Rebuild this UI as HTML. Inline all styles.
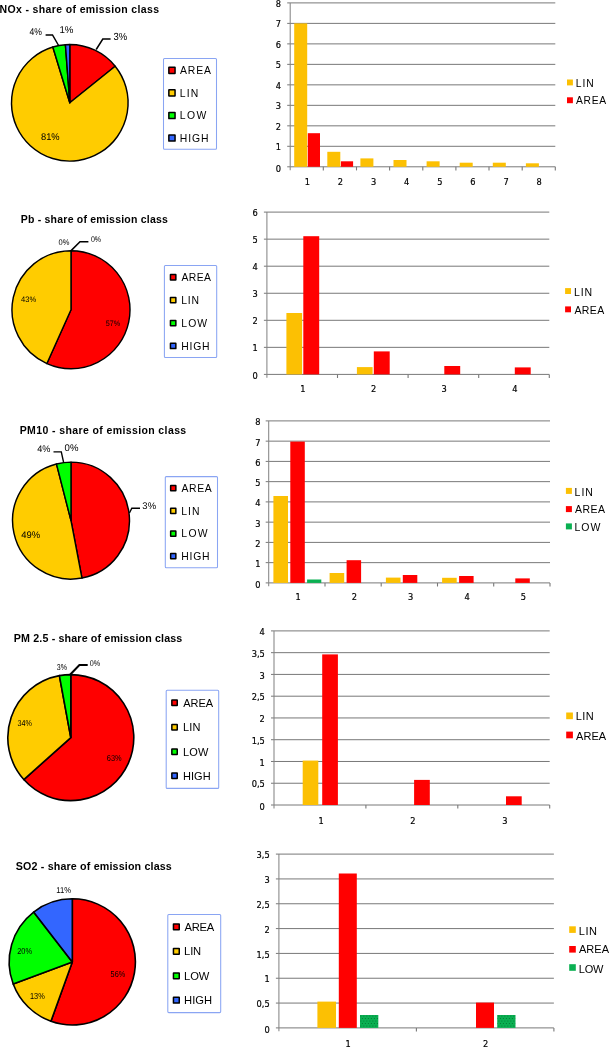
<!DOCTYPE html>
<html><head><meta charset="utf-8"><title>Emission class shares</title>
<style>html,body{margin:0;padding:0;background:#fff}svg{display:block}</style>
</head><body>
<svg width="609" height="1047" viewBox="0 0 609 1047">
<rect width="609" height="1047" fill="#fff"/>
<defs><pattern id="gd" width="3" height="5" patternUnits="userSpaceOnUse"><rect width="3" height="5" fill="#0ab052"/><rect x="0.4" y="0.6" width="0.9" height="0.9" fill="#00702e"/><rect x="1.9" y="3.1" width="0.9" height="0.9" fill="#00702e"/></pattern></defs>
<text x="-0.5" y="12.9" font-family="'Liberation Sans', Arial, sans-serif" font-size="10.5" font-weight="bold" text-anchor="start" fill="#000" textLength="159.6" lengthAdjust="spacing">NOx - share of emission class</text>
<path d="M69.80,102.80 L69.80,44.50 A58.30,58.30 0 0 1 115.18,66.21 Z" fill="#ff0000" stroke="#000" stroke-width="1.45" stroke-linejoin="round"/>
<path d="M69.80,102.80 L115.18,66.21 A58.30,58.30 0 1 1 52.83,47.02 Z" fill="#ffcc00" stroke="#000" stroke-width="1.45" stroke-linejoin="round"/>
<path d="M69.80,102.80 L52.83,47.02 A58.30,58.30 0 0 1 65.41,44.67 Z" fill="#00ff00" stroke="#000" stroke-width="1.45" stroke-linejoin="round"/>
<path d="M69.80,102.80 L65.41,44.67 A58.30,58.30 0 0 1 69.80,44.50 Z" fill="#3366ff" stroke="#000" stroke-width="1.45" stroke-linejoin="round"/>
<path d="M45.6,34.9 L52.5,34.9 L58.6,45.5" fill="none" stroke="#000" stroke-width="1.5"/>
<path d="M110.6,39.0 L102.8,39.0 L96.2,49.5" fill="none" stroke="#000" stroke-width="1.5"/>
<text x="29.56" y="34.7" font-family="'Liberation Sans', Arial, sans-serif" font-size="9.86" textLength="12.44" lengthAdjust="spacingAndGlyphs" text-rendering="geometricPrecision">4%</text>
<text x="59.45" y="32.7" font-family="'Liberation Sans', Arial, sans-serif" font-size="9.86" textLength="14.05" lengthAdjust="spacingAndGlyphs" text-rendering="geometricPrecision">1%</text>
<text x="113.55" y="40.0" font-family="'Liberation Sans', Arial, sans-serif" font-size="10.27" textLength="13.75" lengthAdjust="spacingAndGlyphs" text-rendering="geometricPrecision">3%</text>
<text x="40.97" y="139.7" font-family="'Liberation Sans', Arial, sans-serif" font-size="9.73" textLength="18.63" lengthAdjust="spacingAndGlyphs" text-rendering="geometricPrecision">81%</text>
<rect x="163.5" y="58.4" width="53.0" height="90.8" rx="1" fill="#fff" stroke="#8aa5f3" stroke-width="1.05"/>
<rect x="168.85" y="67.30" width="6.20" height="6.20" rx="0.2" fill="#ff0000" stroke="#000" stroke-width="1.5"/>
<text x="180.0" y="74.1" font-family="'Liberation Sans', Arial, sans-serif" font-size="10.4" text-anchor="start" fill="#000" textLength="31.0" lengthAdjust="spacing">AREA</text>
<rect x="168.85" y="89.80" width="6.20" height="6.20" rx="0.2" fill="#ffcc00" stroke="#000" stroke-width="1.5"/>
<text x="179.8" y="96.6" font-family="'Liberation Sans', Arial, sans-serif" font-size="10.4" text-anchor="start" fill="#000" textLength="18.4" lengthAdjust="spacing">LIN</text>
<rect x="168.85" y="112.40" width="6.20" height="6.20" rx="0.2" fill="#00ff00" stroke="#000" stroke-width="1.5"/>
<text x="179.8" y="119.2" font-family="'Liberation Sans', Arial, sans-serif" font-size="10.4" text-anchor="start" fill="#000" textLength="26.6" lengthAdjust="spacing">LOW</text>
<rect x="168.85" y="134.90" width="6.20" height="6.20" rx="0.2" fill="#3366ff" stroke="#000" stroke-width="1.5"/>
<text x="179.8" y="141.7" font-family="'Liberation Sans', Arial, sans-serif" font-size="10.4" text-anchor="start" fill="#000" textLength="28.6" lengthAdjust="spacing">HIGH</text>
<line x1="287.2" y1="166.80" x2="555.3" y2="166.80" stroke="#787878" stroke-width="1.0"/>
<text transform="translate(281.00,171.50) scale(0.87,1)" font-family="'DejaVu Sans', Verdana, sans-serif" font-size="9.5" text-anchor="end" stroke="#000" stroke-width="0.22">0</text>
<line x1="287.2" y1="146.31" x2="555.3" y2="146.31" stroke="#787878" stroke-width="1.0"/>
<text transform="translate(281.00,150.41) scale(0.87,1)" font-family="'DejaVu Sans', Verdana, sans-serif" font-size="9.5" text-anchor="end" stroke="#000" stroke-width="0.22">1</text>
<line x1="287.2" y1="125.83" x2="555.3" y2="125.83" stroke="#787878" stroke-width="1.0"/>
<text transform="translate(281.00,129.93) scale(0.87,1)" font-family="'DejaVu Sans', Verdana, sans-serif" font-size="9.5" text-anchor="end" stroke="#000" stroke-width="0.22">2</text>
<line x1="287.2" y1="105.34" x2="555.3" y2="105.34" stroke="#787878" stroke-width="1.0"/>
<text transform="translate(281.00,109.44) scale(0.87,1)" font-family="'DejaVu Sans', Verdana, sans-serif" font-size="9.5" text-anchor="end" stroke="#000" stroke-width="0.22">3</text>
<line x1="287.2" y1="84.85" x2="555.3" y2="84.85" stroke="#787878" stroke-width="1.0"/>
<text transform="translate(281.00,88.95) scale(0.87,1)" font-family="'DejaVu Sans', Verdana, sans-serif" font-size="9.5" text-anchor="end" stroke="#000" stroke-width="0.22">4</text>
<line x1="287.2" y1="64.36" x2="555.3" y2="64.36" stroke="#787878" stroke-width="1.0"/>
<text transform="translate(281.00,68.46) scale(0.87,1)" font-family="'DejaVu Sans', Verdana, sans-serif" font-size="9.5" text-anchor="end" stroke="#000" stroke-width="0.22">5</text>
<line x1="287.2" y1="43.88" x2="555.3" y2="43.88" stroke="#787878" stroke-width="1.0"/>
<text transform="translate(281.00,47.98) scale(0.87,1)" font-family="'DejaVu Sans', Verdana, sans-serif" font-size="9.5" text-anchor="end" stroke="#000" stroke-width="0.22">6</text>
<line x1="287.2" y1="23.39" x2="555.3" y2="23.39" stroke="#787878" stroke-width="1.0"/>
<text transform="translate(281.00,27.49) scale(0.87,1)" font-family="'DejaVu Sans', Verdana, sans-serif" font-size="9.5" text-anchor="end" stroke="#000" stroke-width="0.22">7</text>
<line x1="287.2" y1="2.90" x2="555.3" y2="2.90" stroke="#787878" stroke-width="1.0"/>
<text transform="translate(281.00,7.00) scale(0.87,1)" font-family="'DejaVu Sans', Verdana, sans-serif" font-size="9.5" text-anchor="end" stroke="#000" stroke-width="0.22">8</text>
<line x1="290.2" y1="2.9" x2="290.2" y2="170.2" stroke="#858585" stroke-width="1.05"/>
<line x1="323.3" y1="166.8" x2="323.3" y2="170.4" stroke="#787878" stroke-width="1.1"/>
<text transform="translate(307.27,185.00) scale(0.87,1)" font-family="'DejaVu Sans', Verdana, sans-serif" font-size="9.5" text-anchor="middle" stroke="#000" stroke-width="0.22">1</text>
<line x1="356.5" y1="166.8" x2="356.5" y2="170.4" stroke="#787878" stroke-width="1.1"/>
<text transform="translate(340.41,185.00) scale(0.87,1)" font-family="'DejaVu Sans', Verdana, sans-serif" font-size="9.5" text-anchor="middle" stroke="#000" stroke-width="0.22">2</text>
<line x1="389.6" y1="166.8" x2="389.6" y2="170.4" stroke="#787878" stroke-width="1.1"/>
<text transform="translate(373.54,185.00) scale(0.87,1)" font-family="'DejaVu Sans', Verdana, sans-serif" font-size="9.5" text-anchor="middle" stroke="#000" stroke-width="0.22">3</text>
<line x1="422.8" y1="166.8" x2="422.8" y2="170.4" stroke="#787878" stroke-width="1.1"/>
<text transform="translate(406.68,185.00) scale(0.87,1)" font-family="'DejaVu Sans', Verdana, sans-serif" font-size="9.5" text-anchor="middle" stroke="#000" stroke-width="0.22">4</text>
<line x1="455.9" y1="166.8" x2="455.9" y2="170.4" stroke="#787878" stroke-width="1.1"/>
<text transform="translate(439.82,185.00) scale(0.87,1)" font-family="'DejaVu Sans', Verdana, sans-serif" font-size="9.5" text-anchor="middle" stroke="#000" stroke-width="0.22">5</text>
<line x1="489.0" y1="166.8" x2="489.0" y2="170.4" stroke="#787878" stroke-width="1.1"/>
<text transform="translate(472.96,185.00) scale(0.87,1)" font-family="'DejaVu Sans', Verdana, sans-serif" font-size="9.5" text-anchor="middle" stroke="#000" stroke-width="0.22">6</text>
<line x1="522.2" y1="166.8" x2="522.2" y2="170.4" stroke="#787878" stroke-width="1.1"/>
<text transform="translate(506.09,185.00) scale(0.87,1)" font-family="'DejaVu Sans', Verdana, sans-serif" font-size="9.5" text-anchor="middle" stroke="#000" stroke-width="0.22">7</text>
<line x1="555.3" y1="166.8" x2="555.3" y2="170.4" stroke="#787878" stroke-width="1.1"/>
<text transform="translate(539.23,185.00) scale(0.87,1)" font-family="'DejaVu Sans', Verdana, sans-serif" font-size="9.5" text-anchor="middle" stroke="#000" stroke-width="0.22">8</text>
<rect x="294.2" y="23.4" width="13.0" height="143.4" fill="#fcc003"/>
<rect x="307.8" y="133.2" width="12.2" height="33.6" fill="#ff0000"/>
<rect x="327.3" y="151.8" width="13.0" height="15.0" fill="#fcc003"/>
<rect x="340.9" y="161.3" width="12.2" height="5.5" fill="#ff0000"/>
<rect x="360.4" y="158.4" width="13.0" height="8.4" fill="#fcc003"/>
<rect x="393.5" y="160.0" width="13.0" height="6.8" fill="#fcc003"/>
<rect x="426.6" y="161.3" width="13.0" height="5.5" fill="#fcc003"/>
<rect x="459.7" y="162.7" width="13.0" height="4.1" fill="#fcc003"/>
<rect x="492.8" y="162.7" width="13.0" height="4.1" fill="#fcc003"/>
<rect x="525.9" y="163.3" width="13.0" height="3.5" fill="#fcc003"/>
<rect x="567.0" y="79.5" width="5.9" height="5.9" fill="#fcc003"/>
<text x="575.8" y="86.8" font-family="'Liberation Sans', Arial, sans-serif" font-size="10.3" text-anchor="start" fill="#000" textLength="17.9" lengthAdjust="spacing">LIN</text>
<rect x="567.0" y="97.3" width="5.9" height="5.9" fill="#ff0000"/>
<text x="576.1" y="104.3" font-family="'Liberation Sans', Arial, sans-serif" font-size="10.3" text-anchor="start" fill="#000" textLength="30.0" lengthAdjust="spacing">AREA</text>
<text x="20.7" y="222.7" font-family="'Liberation Sans', Arial, sans-serif" font-size="10.5" font-weight="bold" text-anchor="start" fill="#000" textLength="147.2" lengthAdjust="spacing">Pb - share of emission class</text>
<path d="M71.00,309.70 L71.00,250.70 A59.00,59.00 0 1 1 46.89,363.55 Z" fill="#ff0000" stroke="#000" stroke-width="1.45" stroke-linejoin="round"/>
<path d="M71.00,309.70 L46.89,363.55 A59.00,59.00 0 0 1 71.00,250.70 Z" fill="#ffcc00" stroke="#000" stroke-width="1.45" stroke-linejoin="round"/>
<path d="M71.1,250.6 L80.0,241.7 L88.4,241.7" fill="none" stroke="#000" stroke-width="1.5"/>
<text x="58.62" y="245.4" font-family="'Liberation Sans', Arial, sans-serif" font-size="8.22" textLength="10.88" lengthAdjust="spacingAndGlyphs" text-rendering="geometricPrecision">0%</text>
<text x="90.92" y="242.3" font-family="'Liberation Sans', Arial, sans-serif" font-size="8.22" textLength="10.18" lengthAdjust="spacingAndGlyphs" text-rendering="geometricPrecision">0%</text>
<text x="21.03" y="301.9" font-family="'Liberation Sans', Arial, sans-serif" font-size="7.95" textLength="15.07" lengthAdjust="spacingAndGlyphs" text-rendering="geometricPrecision">43%</text>
<text x="105.63" y="326.1" font-family="'Liberation Sans', Arial, sans-serif" font-size="7.95" textLength="14.47" lengthAdjust="spacingAndGlyphs" text-rendering="geometricPrecision">57%</text>
<rect x="164.4" y="265.5" width="52.3" height="91.9" rx="1" fill="#fff" stroke="#8aa5f3" stroke-width="1.05"/>
<rect x="170.45" y="274.60" width="5.40" height="5.40" rx="0.2" fill="#ff0000" stroke="#000" stroke-width="1.5"/>
<text x="181.5" y="281.0" font-family="'Liberation Sans', Arial, sans-serif" font-size="10.4" text-anchor="start" fill="#000" textLength="29.5" lengthAdjust="spacing">AREA</text>
<rect x="170.45" y="297.40" width="5.40" height="5.40" rx="0.2" fill="#ffcc00" stroke="#000" stroke-width="1.5"/>
<text x="181.3" y="303.8" font-family="'Liberation Sans', Arial, sans-serif" font-size="10.4" text-anchor="start" fill="#000" textLength="17.6" lengthAdjust="spacing">LIN</text>
<rect x="170.45" y="320.40" width="5.40" height="5.40" rx="0.2" fill="#00ff00" stroke="#000" stroke-width="1.5"/>
<text x="181.3" y="326.8" font-family="'Liberation Sans', Arial, sans-serif" font-size="10.4" text-anchor="start" fill="#000" textLength="25.8" lengthAdjust="spacing">LOW</text>
<rect x="170.45" y="343.20" width="5.40" height="5.40" rx="0.2" fill="#3366ff" stroke="#000" stroke-width="1.5"/>
<text x="181.3" y="349.6" font-family="'Liberation Sans', Arial, sans-serif" font-size="10.4" text-anchor="start" fill="#000" textLength="28.3" lengthAdjust="spacing">HIGH</text>
<line x1="263.9" y1="374.40" x2="549.3" y2="374.40" stroke="#787878" stroke-width="1.0"/>
<text transform="translate(257.70,379.10) scale(0.87,1)" font-family="'DejaVu Sans', Verdana, sans-serif" font-size="9.5" text-anchor="end" stroke="#000" stroke-width="0.22">0</text>
<line x1="263.9" y1="347.35" x2="549.3" y2="347.35" stroke="#787878" stroke-width="1.0"/>
<text transform="translate(257.70,351.45) scale(0.87,1)" font-family="'DejaVu Sans', Verdana, sans-serif" font-size="9.5" text-anchor="end" stroke="#000" stroke-width="0.22">1</text>
<line x1="263.9" y1="320.30" x2="549.3" y2="320.30" stroke="#787878" stroke-width="1.0"/>
<text transform="translate(257.70,324.40) scale(0.87,1)" font-family="'DejaVu Sans', Verdana, sans-serif" font-size="9.5" text-anchor="end" stroke="#000" stroke-width="0.22">2</text>
<line x1="263.9" y1="293.25" x2="549.3" y2="293.25" stroke="#787878" stroke-width="1.0"/>
<text transform="translate(257.70,297.35) scale(0.87,1)" font-family="'DejaVu Sans', Verdana, sans-serif" font-size="9.5" text-anchor="end" stroke="#000" stroke-width="0.22">3</text>
<line x1="263.9" y1="266.20" x2="549.3" y2="266.20" stroke="#787878" stroke-width="1.0"/>
<text transform="translate(257.70,270.30) scale(0.87,1)" font-family="'DejaVu Sans', Verdana, sans-serif" font-size="9.5" text-anchor="end" stroke="#000" stroke-width="0.22">4</text>
<line x1="263.9" y1="239.15" x2="549.3" y2="239.15" stroke="#787878" stroke-width="1.0"/>
<text transform="translate(257.70,243.25) scale(0.87,1)" font-family="'DejaVu Sans', Verdana, sans-serif" font-size="9.5" text-anchor="end" stroke="#000" stroke-width="0.22">5</text>
<line x1="263.9" y1="212.10" x2="549.3" y2="212.10" stroke="#787878" stroke-width="1.0"/>
<text transform="translate(257.70,216.20) scale(0.87,1)" font-family="'DejaVu Sans', Verdana, sans-serif" font-size="9.5" text-anchor="end" stroke="#000" stroke-width="0.22">6</text>
<line x1="266.9" y1="212.1" x2="266.9" y2="377.8" stroke="#858585" stroke-width="1.05"/>
<line x1="337.5" y1="374.4" x2="337.5" y2="378.0" stroke="#787878" stroke-width="1.1"/>
<text transform="translate(303.00,391.70) scale(0.87,1)" font-family="'DejaVu Sans', Verdana, sans-serif" font-size="9.5" text-anchor="middle" stroke="#000" stroke-width="0.22">1</text>
<line x1="408.1" y1="374.4" x2="408.1" y2="378.0" stroke="#787878" stroke-width="1.1"/>
<text transform="translate(373.60,391.70) scale(0.87,1)" font-family="'DejaVu Sans', Verdana, sans-serif" font-size="9.5" text-anchor="middle" stroke="#000" stroke-width="0.22">2</text>
<line x1="478.7" y1="374.4" x2="478.7" y2="378.0" stroke="#787878" stroke-width="1.1"/>
<text transform="translate(444.20,391.70) scale(0.87,1)" font-family="'DejaVu Sans', Verdana, sans-serif" font-size="9.5" text-anchor="middle" stroke="#000" stroke-width="0.22">3</text>
<line x1="549.3" y1="374.4" x2="549.3" y2="378.0" stroke="#787878" stroke-width="1.1"/>
<text transform="translate(514.80,391.70) scale(0.87,1)" font-family="'DejaVu Sans', Verdana, sans-serif" font-size="9.5" text-anchor="middle" stroke="#000" stroke-width="0.22">4</text>
<rect x="286.4" y="313.0" width="15.7" height="61.4" fill="#fcc003"/>
<rect x="303.3" y="236.2" width="15.9" height="138.2" fill="#ff0000"/>
<rect x="356.9" y="367.1" width="15.7" height="7.3" fill="#fcc003"/>
<rect x="373.8" y="351.4" width="15.9" height="23.0" fill="#ff0000"/>
<rect x="444.3" y="366.0" width="15.9" height="8.4" fill="#ff0000"/>
<rect x="514.8" y="367.4" width="15.9" height="7.0" fill="#ff0000"/>
<rect x="565.1" y="288.1" width="5.9" height="5.9" fill="#fcc003"/>
<text x="574.0" y="295.8" font-family="'Liberation Sans', Arial, sans-serif" font-size="10.5" text-anchor="start" fill="#000" textLength="18.2" lengthAdjust="spacing">LIN</text>
<rect x="565.1" y="306.4" width="5.9" height="5.9" fill="#ff0000"/>
<text x="574.4" y="313.5" font-family="'Liberation Sans', Arial, sans-serif" font-size="10.5" text-anchor="start" fill="#000" textLength="29.8" lengthAdjust="spacing">AREA</text>
<text x="19.7" y="433.8" font-family="'Liberation Sans', Arial, sans-serif" font-size="10.5" font-weight="bold" text-anchor="start" fill="#000" textLength="166.5" lengthAdjust="spacing">PM10 - share of emission class</text>
<path d="M71.00,520.60 L71.00,462.10 A58.50,58.50 0 0 1 81.96,578.06 Z" fill="#ff0000" stroke="#000" stroke-width="1.45" stroke-linejoin="round"/>
<path d="M71.00,520.60 L81.96,578.06 A58.50,58.50 0 0 1 56.45,463.94 Z" fill="#ffcc00" stroke="#000" stroke-width="1.45" stroke-linejoin="round"/>
<path d="M71.00,520.60 L56.45,463.94 A58.50,58.50 0 0 1 71.00,462.10 Z" fill="#00ff00" stroke="#000" stroke-width="1.45" stroke-linejoin="round"/>
<path d="M129.4,513.0 L131.8,508.3 L140.0,508.3" fill="none" stroke="#000" stroke-width="1.4"/>
<path d="M53.5,451.9 L61.3,451.9 L63.6,462.3" fill="none" stroke="#000" stroke-width="1.4"/>
<text x="37.27" y="452.2" font-family="'Liberation Sans', Arial, sans-serif" font-size="9.59" textLength="13.23" lengthAdjust="spacingAndGlyphs" text-rendering="geometricPrecision">4%</text>
<text x="64.57" y="450.5" font-family="'Liberation Sans', Arial, sans-serif" font-size="9.73" textLength="13.83" lengthAdjust="spacingAndGlyphs" text-rendering="geometricPrecision">0%</text>
<text x="21.27" y="538.0" font-family="'Liberation Sans', Arial, sans-serif" font-size="9.59" textLength="18.93" lengthAdjust="spacingAndGlyphs" text-rendering="geometricPrecision">49%</text>
<text x="142.37" y="508.8" font-family="'Liberation Sans', Arial, sans-serif" font-size="9.59" textLength="13.73" lengthAdjust="spacingAndGlyphs" text-rendering="geometricPrecision">3%</text>
<rect x="165.3" y="476.6" width="52.2" height="91.1" rx="1" fill="#fff" stroke="#8aa5f3" stroke-width="1.05"/>
<rect x="170.65" y="485.50" width="5.20" height="5.20" rx="0.2" fill="#ff0000" stroke="#000" stroke-width="1.5"/>
<text x="181.5" y="491.8" font-family="'Liberation Sans', Arial, sans-serif" font-size="10.4" text-anchor="start" fill="#000" textLength="30.3" lengthAdjust="spacing">AREA</text>
<rect x="170.65" y="508.20" width="5.20" height="5.20" rx="0.2" fill="#ffcc00" stroke="#000" stroke-width="1.5"/>
<text x="181.3" y="514.5" font-family="'Liberation Sans', Arial, sans-serif" font-size="10.4" text-anchor="start" fill="#000" textLength="18.1" lengthAdjust="spacing">LIN</text>
<rect x="170.65" y="531.00" width="5.20" height="5.20" rx="0.2" fill="#00ff00" stroke="#000" stroke-width="1.5"/>
<text x="181.3" y="537.3" font-family="'Liberation Sans', Arial, sans-serif" font-size="10.4" text-anchor="start" fill="#000" textLength="26.3" lengthAdjust="spacing">LOW</text>
<rect x="170.65" y="553.60" width="5.20" height="5.20" rx="0.2" fill="#3366ff" stroke="#000" stroke-width="1.5"/>
<text x="181.3" y="559.9" font-family="'Liberation Sans', Arial, sans-serif" font-size="10.4" text-anchor="start" fill="#000" textLength="28.3" lengthAdjust="spacing">HIGH</text>
<line x1="265.7" y1="582.90" x2="550.0" y2="582.90" stroke="#787878" stroke-width="1.0"/>
<text transform="translate(260.40,588.00) scale(0.87,1)" font-family="'DejaVu Sans', Verdana, sans-serif" font-size="9.5" text-anchor="end" stroke="#000" stroke-width="0.22">0</text>
<line x1="265.7" y1="562.65" x2="550.0" y2="562.65" stroke="#787878" stroke-width="1.0"/>
<text transform="translate(260.40,567.15) scale(0.87,1)" font-family="'DejaVu Sans', Verdana, sans-serif" font-size="9.5" text-anchor="end" stroke="#000" stroke-width="0.22">1</text>
<line x1="265.7" y1="542.40" x2="550.0" y2="542.40" stroke="#787878" stroke-width="1.0"/>
<text transform="translate(260.40,546.90) scale(0.87,1)" font-family="'DejaVu Sans', Verdana, sans-serif" font-size="9.5" text-anchor="end" stroke="#000" stroke-width="0.22">2</text>
<line x1="265.7" y1="522.15" x2="550.0" y2="522.15" stroke="#787878" stroke-width="1.0"/>
<text transform="translate(260.40,526.65) scale(0.87,1)" font-family="'DejaVu Sans', Verdana, sans-serif" font-size="9.5" text-anchor="end" stroke="#000" stroke-width="0.22">3</text>
<line x1="265.7" y1="501.90" x2="550.0" y2="501.90" stroke="#787878" stroke-width="1.0"/>
<text transform="translate(260.40,506.40) scale(0.87,1)" font-family="'DejaVu Sans', Verdana, sans-serif" font-size="9.5" text-anchor="end" stroke="#000" stroke-width="0.22">4</text>
<line x1="265.7" y1="481.65" x2="550.0" y2="481.65" stroke="#787878" stroke-width="1.0"/>
<text transform="translate(260.40,486.15) scale(0.87,1)" font-family="'DejaVu Sans', Verdana, sans-serif" font-size="9.5" text-anchor="end" stroke="#000" stroke-width="0.22">5</text>
<line x1="265.7" y1="461.40" x2="550.0" y2="461.40" stroke="#787878" stroke-width="1.0"/>
<text transform="translate(260.40,465.90) scale(0.87,1)" font-family="'DejaVu Sans', Verdana, sans-serif" font-size="9.5" text-anchor="end" stroke="#000" stroke-width="0.22">6</text>
<line x1="265.7" y1="441.15" x2="550.0" y2="441.15" stroke="#787878" stroke-width="1.0"/>
<text transform="translate(260.40,445.65) scale(0.87,1)" font-family="'DejaVu Sans', Verdana, sans-serif" font-size="9.5" text-anchor="end" stroke="#000" stroke-width="0.22">7</text>
<line x1="265.7" y1="420.90" x2="550.0" y2="420.90" stroke="#787878" stroke-width="1.0"/>
<text transform="translate(260.40,425.40) scale(0.87,1)" font-family="'DejaVu Sans', Verdana, sans-serif" font-size="9.5" text-anchor="end" stroke="#000" stroke-width="0.22">8</text>
<line x1="268.7" y1="420.9" x2="268.7" y2="586.3" stroke="#858585" stroke-width="1.05"/>
<line x1="325.0" y1="582.9" x2="325.0" y2="586.5" stroke="#787878" stroke-width="1.1"/>
<text transform="translate(298.23,600.30) scale(0.87,1)" font-family="'DejaVu Sans', Verdana, sans-serif" font-size="9.5" text-anchor="middle" stroke="#000" stroke-width="0.22">1</text>
<line x1="381.2" y1="582.9" x2="381.2" y2="586.5" stroke="#787878" stroke-width="1.1"/>
<text transform="translate(354.49,600.30) scale(0.87,1)" font-family="'DejaVu Sans', Verdana, sans-serif" font-size="9.5" text-anchor="middle" stroke="#000" stroke-width="0.22">2</text>
<line x1="437.5" y1="582.9" x2="437.5" y2="586.5" stroke="#787878" stroke-width="1.1"/>
<text transform="translate(410.75,600.30) scale(0.87,1)" font-family="'DejaVu Sans', Verdana, sans-serif" font-size="9.5" text-anchor="middle" stroke="#000" stroke-width="0.22">3</text>
<line x1="493.7" y1="582.9" x2="493.7" y2="586.5" stroke="#787878" stroke-width="1.1"/>
<text transform="translate(467.01,600.30) scale(0.87,1)" font-family="'DejaVu Sans', Verdana, sans-serif" font-size="9.5" text-anchor="middle" stroke="#000" stroke-width="0.22">4</text>
<line x1="550.0" y1="582.9" x2="550.0" y2="586.5" stroke="#787878" stroke-width="1.1"/>
<text transform="translate(523.27,600.30) scale(0.87,1)" font-family="'DejaVu Sans', Verdana, sans-serif" font-size="9.5" text-anchor="middle" stroke="#000" stroke-width="0.22">5</text>
<rect x="273.4" y="496.0" width="14.6" height="86.9" fill="#fcc003"/>
<rect x="290.3" y="441.6" width="14.5" height="141.3" fill="#ff0000"/>
<rect x="307.1" y="579.5" width="14.2" height="3.4" fill="#0ab052"/>
<rect x="329.6" y="573.0" width="14.6" height="9.9" fill="#fcc003"/>
<rect x="346.6" y="560.2" width="14.5" height="22.7" fill="#ff0000"/>
<rect x="385.9" y="577.6" width="14.6" height="5.3" fill="#fcc003"/>
<rect x="402.8" y="575.0" width="14.5" height="7.9" fill="#ff0000"/>
<rect x="442.1" y="577.8" width="14.6" height="5.1" fill="#fcc003"/>
<rect x="459.1" y="576.0" width="14.5" height="6.9" fill="#ff0000"/>
<rect x="515.3" y="578.4" width="14.5" height="4.5" fill="#ff0000"/>
<rect x="565.9" y="487.9" width="6.0" height="6.0" fill="#fcc003"/>
<text x="574.6" y="495.8" font-family="'Liberation Sans', Arial, sans-serif" font-size="10.5" text-anchor="start" fill="#000" textLength="18.3" lengthAdjust="spacing">LIN</text>
<rect x="565.9" y="506.1" width="6.0" height="6.0" fill="#ff0000"/>
<text x="575.1" y="513.0" font-family="'Liberation Sans', Arial, sans-serif" font-size="10.5" text-anchor="start" fill="#000" textLength="29.9" lengthAdjust="spacing">AREA</text>
<rect x="565.9" y="523.4" width="6.0" height="6.0" fill="#0ab052"/>
<text x="574.6" y="531.1" font-family="'Liberation Sans', Arial, sans-serif" font-size="10.5" text-anchor="start" fill="#000" textLength="25.7" lengthAdjust="spacing">LOW</text>
<text x="13.8" y="641.8" font-family="'Liberation Sans', Arial, sans-serif" font-size="10.7" font-weight="bold" text-anchor="start" fill="#000" textLength="168.5" lengthAdjust="spacing">PM 2.5 - share of emission class</text>
<path d="M70.80,737.60 L70.80,674.60 A63.00,63.00 0 1 1 23.81,779.56 Z" fill="#ff0000" stroke="#000" stroke-width="1.6" stroke-linejoin="round"/>
<path d="M70.80,737.60 L23.81,779.56 A63.00,63.00 0 0 1 59.38,675.64 Z" fill="#ffcc00" stroke="#000" stroke-width="1.6" stroke-linejoin="round"/>
<path d="M70.80,737.60 L59.38,675.64 A63.00,63.00 0 0 1 70.80,674.60 Z" fill="#00ff00" stroke="#000" stroke-width="1.6" stroke-linejoin="round"/>
<path d="M69.8,675.0 L79.4,665.1 L87.7,665.1" fill="none" stroke="#000" stroke-width="2.0"/>
<text x="56.81" y="669.7" font-family="'Liberation Sans', Arial, sans-serif" font-size="8.49" textLength="10.19" lengthAdjust="spacingAndGlyphs" text-rendering="geometricPrecision">3%</text>
<text x="89.82" y="666.0" font-family="'Liberation Sans', Arial, sans-serif" font-size="8.36" textLength="10.38" lengthAdjust="spacingAndGlyphs" text-rendering="geometricPrecision">0%</text>
<text x="17.61" y="726.2" font-family="'Liberation Sans', Arial, sans-serif" font-size="8.63" textLength="14.39" lengthAdjust="spacingAndGlyphs" text-rendering="geometricPrecision">34%</text>
<text x="106.81" y="761.2" font-family="'Liberation Sans', Arial, sans-serif" font-size="8.63" textLength="14.79" lengthAdjust="spacingAndGlyphs" text-rendering="geometricPrecision">63%</text>
<rect x="166.2" y="690.3" width="52.5" height="98.1" rx="1" fill="#fff" stroke="#8aa5f3" stroke-width="1.05"/>
<rect x="171.85" y="700.00" width="5.40" height="5.40" rx="0.2" fill="#ff0000" stroke="#000" stroke-width="1.5"/>
<text x="183.2" y="706.6" font-family="'Liberation Sans', Arial, sans-serif" font-size="11" text-anchor="start" fill="#000" textLength="29.9" lengthAdjust="spacing">AREA</text>
<rect x="171.85" y="724.60" width="5.40" height="5.40" rx="0.2" fill="#ffcc00" stroke="#000" stroke-width="1.5"/>
<text x="182.9" y="731.2" font-family="'Liberation Sans', Arial, sans-serif" font-size="11" text-anchor="start" fill="#000" textLength="17.6" lengthAdjust="spacing">LIN</text>
<rect x="171.85" y="749.10" width="5.40" height="5.40" rx="0.2" fill="#00ff00" stroke="#000" stroke-width="1.5"/>
<text x="182.9" y="755.7" font-family="'Liberation Sans', Arial, sans-serif" font-size="11" text-anchor="start" fill="#000" textLength="25.5" lengthAdjust="spacing">LOW</text>
<rect x="171.85" y="773.00" width="5.40" height="5.40" rx="0.2" fill="#3366ff" stroke="#000" stroke-width="1.5"/>
<text x="182.9" y="779.6" font-family="'Liberation Sans', Arial, sans-serif" font-size="11" text-anchor="start" fill="#000" textLength="27.8" lengthAdjust="spacing">HIGH</text>
<line x1="271.0" y1="805.00" x2="549.7" y2="805.00" stroke="#787878" stroke-width="1.0"/>
<text transform="translate(264.80,809.70) scale(0.87,1)" font-family="'DejaVu Sans', Verdana, sans-serif" font-size="9.5" text-anchor="end" stroke="#000" stroke-width="0.22">0</text>
<line x1="271.0" y1="783.24" x2="549.7" y2="783.24" stroke="#787878" stroke-width="1.0"/>
<text transform="translate(264.80,787.34) scale(0.87,1)" font-family="'DejaVu Sans', Verdana, sans-serif" font-size="9.5" text-anchor="end" stroke="#000" stroke-width="0.22">0,5</text>
<line x1="271.0" y1="761.48" x2="549.7" y2="761.48" stroke="#787878" stroke-width="1.0"/>
<text transform="translate(264.80,765.58) scale(0.87,1)" font-family="'DejaVu Sans', Verdana, sans-serif" font-size="9.5" text-anchor="end" stroke="#000" stroke-width="0.22">1</text>
<line x1="271.0" y1="739.71" x2="549.7" y2="739.71" stroke="#787878" stroke-width="1.0"/>
<text transform="translate(264.80,743.81) scale(0.87,1)" font-family="'DejaVu Sans', Verdana, sans-serif" font-size="9.5" text-anchor="end" stroke="#000" stroke-width="0.22">1,5</text>
<line x1="271.0" y1="717.95" x2="549.7" y2="717.95" stroke="#787878" stroke-width="1.0"/>
<text transform="translate(264.80,722.05) scale(0.87,1)" font-family="'DejaVu Sans', Verdana, sans-serif" font-size="9.5" text-anchor="end" stroke="#000" stroke-width="0.22">2</text>
<line x1="271.0" y1="696.19" x2="549.7" y2="696.19" stroke="#787878" stroke-width="1.0"/>
<text transform="translate(264.80,700.29) scale(0.87,1)" font-family="'DejaVu Sans', Verdana, sans-serif" font-size="9.5" text-anchor="end" stroke="#000" stroke-width="0.22">2,5</text>
<line x1="271.0" y1="674.42" x2="549.7" y2="674.42" stroke="#787878" stroke-width="1.0"/>
<text transform="translate(264.80,678.52) scale(0.87,1)" font-family="'DejaVu Sans', Verdana, sans-serif" font-size="9.5" text-anchor="end" stroke="#000" stroke-width="0.22">3</text>
<line x1="271.0" y1="652.66" x2="549.7" y2="652.66" stroke="#787878" stroke-width="1.0"/>
<text transform="translate(264.80,656.76) scale(0.87,1)" font-family="'DejaVu Sans', Verdana, sans-serif" font-size="9.5" text-anchor="end" stroke="#000" stroke-width="0.22">3,5</text>
<line x1="271.0" y1="630.90" x2="549.7" y2="630.90" stroke="#787878" stroke-width="1.0"/>
<text transform="translate(264.80,635.00) scale(0.87,1)" font-family="'DejaVu Sans', Verdana, sans-serif" font-size="9.5" text-anchor="end" stroke="#000" stroke-width="0.22">4</text>
<line x1="274.0" y1="630.9" x2="274.0" y2="808.4" stroke="#858585" stroke-width="1.05"/>
<line x1="365.9" y1="805.0" x2="365.9" y2="808.6" stroke="#787878" stroke-width="1.1"/>
<text transform="translate(321.05,824.10) scale(0.87,1)" font-family="'DejaVu Sans', Verdana, sans-serif" font-size="9.5" text-anchor="middle" stroke="#000" stroke-width="0.22">1</text>
<line x1="457.8" y1="805.0" x2="457.8" y2="808.6" stroke="#787878" stroke-width="1.1"/>
<text transform="translate(412.95,824.10) scale(0.87,1)" font-family="'DejaVu Sans', Verdana, sans-serif" font-size="9.5" text-anchor="middle" stroke="#000" stroke-width="0.22">2</text>
<line x1="549.7" y1="805.0" x2="549.7" y2="808.6" stroke="#787878" stroke-width="1.1"/>
<text transform="translate(504.85,824.10) scale(0.87,1)" font-family="'DejaVu Sans', Verdana, sans-serif" font-size="9.5" text-anchor="middle" stroke="#000" stroke-width="0.22">3</text>
<rect x="302.7" y="760.6" width="15.6" height="44.4" fill="#fcc003"/>
<rect x="322.2" y="654.4" width="15.7" height="150.6" fill="#ff0000"/>
<rect x="414.1" y="779.9" width="15.7" height="25.1" fill="#ff0000"/>
<rect x="506.0" y="796.3" width="15.7" height="8.7" fill="#ff0000"/>
<rect x="566.2" y="712.5" width="6.7" height="6.7" fill="#fcc003"/>
<text x="575.8" y="720.4" font-family="'Liberation Sans', Arial, sans-serif" font-size="11" text-anchor="start" fill="#000" textLength="17.9" lengthAdjust="spacing">LIN</text>
<rect x="566.2" y="731.6" width="6.7" height="6.7" fill="#ff0000"/>
<text x="576.1" y="739.5" font-family="'Liberation Sans', Arial, sans-serif" font-size="11" text-anchor="start" fill="#000" textLength="30.0" lengthAdjust="spacing">AREA</text>
<text x="15.8" y="869.7" font-family="'Liberation Sans', Arial, sans-serif" font-size="10.7" font-weight="bold" text-anchor="start" fill="#000" textLength="156.0" lengthAdjust="spacing">SO2 - share of emission class</text>
<path d="M72.30,961.90 L72.30,898.80 A63.10,63.10 0 1 1 50.93,1021.27 Z" fill="#ff0000" stroke="#000" stroke-width="1.6" stroke-linejoin="round"/>
<path d="M72.30,961.90 L50.93,1021.27 A63.10,63.10 0 0 1 13.20,984.02 Z" fill="#ffcc00" stroke="#000" stroke-width="1.6" stroke-linejoin="round"/>
<path d="M72.30,961.90 L13.20,984.02 A63.10,63.10 0 0 1 33.63,912.04 Z" fill="#00ff00" stroke="#000" stroke-width="1.6" stroke-linejoin="round"/>
<path d="M72.30,961.90 L33.63,912.04 A63.10,63.10 0 0 1 72.30,898.80 Z" fill="#3366ff" stroke="#000" stroke-width="1.6" stroke-linejoin="round"/>
<text x="56.25" y="893.4" font-family="'Liberation Sans', Arial, sans-serif" font-size="8.49" textLength="14.75" lengthAdjust="spacingAndGlyphs" text-rendering="geometricPrecision">11%</text>
<text x="17.21" y="954.3" font-family="'Liberation Sans', Arial, sans-serif" font-size="8.63" textLength="14.79" lengthAdjust="spacingAndGlyphs" text-rendering="geometricPrecision">20%</text>
<text x="30.03" y="999.4" font-family="'Liberation Sans', Arial, sans-serif" font-size="8.77" textLength="14.77" lengthAdjust="spacingAndGlyphs" text-rendering="geometricPrecision">13%</text>
<text x="110.61" y="977.1" font-family="'Liberation Sans', Arial, sans-serif" font-size="8.63" textLength="14.59" lengthAdjust="spacingAndGlyphs" text-rendering="geometricPrecision">56%</text>
<rect x="167.8" y="914.5" width="52.9" height="98.1" rx="1" fill="#fff" stroke="#8aa5f3" stroke-width="1.05"/>
<rect x="173.45" y="923.90" width="5.80" height="5.80" rx="0.2" fill="#ff0000" stroke="#000" stroke-width="1.5"/>
<text x="184.4" y="930.8" font-family="'Liberation Sans', Arial, sans-serif" font-size="11.2" text-anchor="start" fill="#000" textLength="29.9" lengthAdjust="spacing">AREA</text>
<rect x="173.45" y="948.40" width="5.80" height="5.80" rx="0.2" fill="#ffcc00" stroke="#000" stroke-width="1.5"/>
<text x="184.1" y="955.3" font-family="'Liberation Sans', Arial, sans-serif" font-size="11.2" text-anchor="start" fill="#000" textLength="17.1" lengthAdjust="spacing">LIN</text>
<rect x="173.45" y="973.00" width="5.80" height="5.80" rx="0.2" fill="#00ff00" stroke="#000" stroke-width="1.5"/>
<text x="184.1" y="979.9" font-family="'Liberation Sans', Arial, sans-serif" font-size="11.2" text-anchor="start" fill="#000" textLength="25.3" lengthAdjust="spacing">LOW</text>
<rect x="173.45" y="997.30" width="5.80" height="5.80" rx="0.2" fill="#3366ff" stroke="#000" stroke-width="1.5"/>
<text x="184.1" y="1004.2" font-family="'Liberation Sans', Arial, sans-serif" font-size="11.2" text-anchor="start" fill="#000" textLength="27.9" lengthAdjust="spacing">HIGH</text>
<line x1="275.9" y1="1027.90" x2="553.9" y2="1027.90" stroke="#787878" stroke-width="1.0"/>
<text transform="translate(269.70,1032.60) scale(0.87,1)" font-family="'DejaVu Sans', Verdana, sans-serif" font-size="9.5" text-anchor="end" stroke="#000" stroke-width="0.22">0</text>
<line x1="275.9" y1="1003.07" x2="553.9" y2="1003.07" stroke="#787878" stroke-width="1.0"/>
<text transform="translate(269.70,1007.17) scale(0.87,1)" font-family="'DejaVu Sans', Verdana, sans-serif" font-size="9.5" text-anchor="end" stroke="#000" stroke-width="0.22">0,5</text>
<line x1="275.9" y1="978.24" x2="553.9" y2="978.24" stroke="#787878" stroke-width="1.0"/>
<text transform="translate(269.70,982.34) scale(0.87,1)" font-family="'DejaVu Sans', Verdana, sans-serif" font-size="9.5" text-anchor="end" stroke="#000" stroke-width="0.22">1</text>
<line x1="275.9" y1="953.41" x2="553.9" y2="953.41" stroke="#787878" stroke-width="1.0"/>
<text transform="translate(269.70,957.51) scale(0.87,1)" font-family="'DejaVu Sans', Verdana, sans-serif" font-size="9.5" text-anchor="end" stroke="#000" stroke-width="0.22">1,5</text>
<line x1="275.9" y1="928.59" x2="553.9" y2="928.59" stroke="#787878" stroke-width="1.0"/>
<text transform="translate(269.70,932.69) scale(0.87,1)" font-family="'DejaVu Sans', Verdana, sans-serif" font-size="9.5" text-anchor="end" stroke="#000" stroke-width="0.22">2</text>
<line x1="275.9" y1="903.76" x2="553.9" y2="903.76" stroke="#787878" stroke-width="1.0"/>
<text transform="translate(269.70,907.86) scale(0.87,1)" font-family="'DejaVu Sans', Verdana, sans-serif" font-size="9.5" text-anchor="end" stroke="#000" stroke-width="0.22">2,5</text>
<line x1="275.9" y1="878.93" x2="553.9" y2="878.93" stroke="#787878" stroke-width="1.0"/>
<text transform="translate(269.70,883.03) scale(0.87,1)" font-family="'DejaVu Sans', Verdana, sans-serif" font-size="9.5" text-anchor="end" stroke="#000" stroke-width="0.22">3</text>
<line x1="275.9" y1="854.10" x2="553.9" y2="854.10" stroke="#787878" stroke-width="1.0"/>
<text transform="translate(269.70,858.20) scale(0.87,1)" font-family="'DejaVu Sans', Verdana, sans-serif" font-size="9.5" text-anchor="end" stroke="#000" stroke-width="0.22">3,5</text>
<line x1="278.9" y1="854.1" x2="278.9" y2="1031.3" stroke="#858585" stroke-width="1.05"/>
<line x1="416.4" y1="1027.9" x2="416.4" y2="1031.5" stroke="#787878" stroke-width="1.1"/>
<text transform="translate(348.15,1046.80) scale(0.87,1)" font-family="'DejaVu Sans', Verdana, sans-serif" font-size="9.5" text-anchor="middle" stroke="#000" stroke-width="0.22">1</text>
<line x1="553.9" y1="1027.9" x2="553.9" y2="1031.5" stroke="#787878" stroke-width="1.1"/>
<text transform="translate(485.65,1046.80) scale(0.87,1)" font-family="'DejaVu Sans', Verdana, sans-serif" font-size="9.5" text-anchor="middle" stroke="#000" stroke-width="0.22">2</text>
<rect x="317.4" y="1001.6" width="18.6" height="26.3" fill="#fcc003"/>
<rect x="338.8" y="873.5" width="18.0" height="154.4" fill="#ff0000"/>
<rect x="360.0" y="1015.0" width="18.3" height="12.9" fill="url(#gd)"/>
<rect x="476.0" y="1002.6" width="18.0" height="25.3" fill="#ff0000"/>
<rect x="497.2" y="1015.0" width="18.3" height="12.9" fill="url(#gd)"/>
<rect x="569.2" y="926.3" width="6.6" height="6.6" fill="#fcc003"/>
<text x="578.7" y="934.8" font-family="'Liberation Sans', Arial, sans-serif" font-size="11" text-anchor="start" fill="#000" textLength="18.3" lengthAdjust="spacing">LIN</text>
<rect x="569.2" y="946.0" width="6.6" height="6.6" fill="#ff0000"/>
<text x="579.0" y="953.3" font-family="'Liberation Sans', Arial, sans-serif" font-size="11" text-anchor="start" fill="#000" textLength="30.0" lengthAdjust="spacing">AREA</text>
<rect x="569.2" y="964.2" width="6.6" height="6.6" fill="#0ab052"/>
<text x="578.7" y="972.6" font-family="'Liberation Sans', Arial, sans-serif" font-size="11" text-anchor="start" fill="#000" textLength="24.8" lengthAdjust="spacing">LOW</text>
</svg>
</body></html>
